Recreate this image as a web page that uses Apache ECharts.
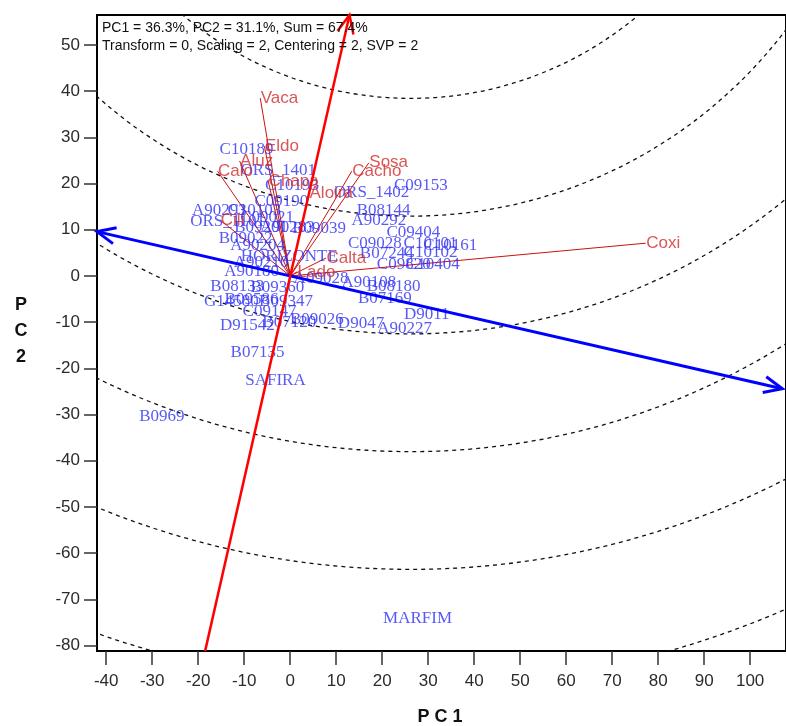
<!DOCTYPE html>
<html>
<head>
<meta charset="utf-8">
<script src="https://cdn.jsdelivr.net/npm/echarts@6/dist/echarts.min.js"></script>
<style>
  html, body { margin: 0; padding: 0; background: #fff; }
  #chart { width: 786px; height: 726px; }
</style>
</head>
<body>
<div id="chart"></div>
<script>
// GGE biplot: PC1 vs PC2, genotypes (blue) and environments (red vectors)

const xTicks = [-40, -30, -20, -10, 0, 10, 20, 30, 40, 50, 60, 70, 80, 90, 100];
const yTicks = [50, 40, 30, 20, 10, 0, -10, -20, -30, -40, -50, -60, -70, -80];

const headerLines = [
  'PC1 = 36.3%, PC2 = 31.1%, Sum = 67.4%',
  'Transform = 0, Scaling = 2, Centering = 2, SVP = 2'
];

// Genotype scores
const genotypeNames = [
  'C10189', 'ORS_1401', 'C10193', 'C09190', 'ORS_1402', 'C09153', 'B08144', 'A90292',
  'A90293', 'C10103', 'ORS_1101', 'C09021', 'B09201', 'A90283', 'B09039', 'B09022',
  'A90204', 'C09404', 'C09028', 'C10101', 'C10161', 'C10102', 'B07244', 'C09820',
  'C10404', 'HORIZONTE', 'A90210', 'A90180', 'A09028', 'A90108', 'B08180', 'B08133',
  'B09360', 'B07169', 'G14580', 'B09586', 'B09347', 'C09147', 'D9011', 'B09026',
  'B07120', 'D91542', 'D9047', 'A90227', 'B07135', 'SAFIRA', 'B0969', 'MARFIM'
];
const genotypePC1 = [
  -9.5, -2.6, 0.4, -1.9, 17.7, 28.4, 20.3, 19.3,
  -15.4, -7.8, -13.6, -5.0, -6.3, -0.6, 6.3, -9.7,
  -7.1, 26.8, 18.4, 30.5, 34.8, 30.5, 21.0, 24.7,
  31.0, -0.2, -6.3, -8.4, 6.7, 17.1, 22.5, -11.5,
  -2.8, 20.6, -12.8, -8.4, -0.9, -4.5, 29.7, 5.8,
  -0.2, -9.3, 15.4, 24.9, -7.1, -3.2, -27.9, 27.7
];
const genotypePC2 = [
  27.3, 22.9, 19.5, 16.2, 18.0, 19.5, 14.1, 11.9,
  14.1, 14.1, 11.7, 12.6, 10.4, 10.4, 10.2, 8.2,
  6.7, 9.5, 7.1, 7.1, 6.5, 5.0, 4.8, 2.4,
  2.4, 4.3, 3.0, 0.9, -0.6, -1.5, -2.2, -2.2,
  -2.6, -4.8, -5.6, -5.0, -5.6, -7.8, -8.4, -9.5,
  -10.0, -10.8, -10.2, -11.3, -16.5, -22.7, -30.5, -74.2
];

// Environment vector end points
const envNames = ['Vaca', 'Eldo', 'Aluz', 'Calo', 'Chapa', 'Aloira', 'Cacho', 'Sosa', 'Cili', 'Calta', 'Lado', 'Coxi'];
const envPC1 = [-6.5, -5.6, -11.0, -15.8, -4.8, 4.1, 13.4, 17.1, -15.2, 7.8, 1.5, 77.3];
const envPC2 = [38.5, 28.1, 24.9, 22.7, 20.6, 18.0, 22.7, 24.5, 12.1, 3.9, 0.9, 7.1];

// Average-environment axis (red, arrow at the top end) and its perpendicular (blue, arrows both ends)
const aecAbscissa = [[-18.5, -81.2], [12.9, 56.5]];
const aecOrdinate = [[-42.0, 9.6], [107.0, -24.4]];

// Concentric guide circles around the ideal point on the average-environment axis
const circleCenter = [26.2, 114.9];
const circleRadii = [76.8, 102.4, 128.0, 153.6, 179.2, 204.8];

// Arrow heads: [tipX, tipY, fromX, fromY, color]
const arrowHeads = [
  [aecAbscissa[1][0], aecAbscissa[1][1], aecAbscissa[0][0], aecAbscissa[0][1], '#ff0000'],
  [aecOrdinate[0][0], aecOrdinate[0][1], aecOrdinate[1][0], aecOrdinate[1][1], '#0000ff'],
  [aecOrdinate[1][0], aecOrdinate[1][1], aecOrdinate[0][0], aecOrdinate[0][1], '#0000ff']
];

const chart = echarts.init(document.getElementById('chart'), null, { renderer: 'canvas' });

const tickLabelFont = { fontFamily: 'Liberation Sans, Arial, sans-serif', fontSize: 17, color: '#2b2b2b' };

const option = {
  animation: false,
  backgroundColor: '#fff',
  grid: {
    left: 97, top: 15, width: 692, height: 636,
    show: true, borderColor: '#000', borderWidth: 2, backgroundColor: 'transparent'
  },
  xAxis: {
    type: 'value', min: -42.0, max: 107.8,
    axisLine: { show: true, onZero: false, lineStyle: { color: '#000', width: 2 } },
    axisTick: { show: true, length: 14, customValues: xTicks, lineStyle: { color: '#333', width: 1.5 } },
    axisLabel: Object.assign({ customValues: xTicks, margin: 22 }, tickLabelFont),
    splitLine: { show: false }
  },
  yAxis: {
    type: 'value', min: -81.17, max: 56.49,
    axisLine: { show: true, onZero: false, lineStyle: { color: '#000', width: 2 } },
    axisTick: { show: true, length: 13, customValues: yTicks, lineStyle: { color: '#333', width: 1.5 } },
    axisLabel: Object.assign({ customValues: yTicks, margin: 17 }, tickLabelFont),
    splitLine: { show: false }
  },
  graphic: [
    {
      type: 'text', left: 102, top: 19,
      style: { text: headerLines.join('\n'), fontFamily: 'Liberation Sans, Arial, sans-serif', fontSize: 14, lineHeight: 18, fill: '#111' },
      z: 100
    },
    {
      type: 'text', x: 440, y: 717,
      style: { text: 'P C 1', fontFamily: 'Liberation Sans, Arial, sans-serif', fontWeight: 'bold', fontSize: 18, fill: '#111', align: 'center', verticalAlign: 'middle' }
    },
    {
      type: 'text', x: 21, y: 331,
      style: { text: 'P\nC\n2', fontFamily: 'Liberation Sans, Arial, sans-serif', fontWeight: 'bold', fontSize: 18, lineHeight: 26, fill: '#111', align: 'center', verticalAlign: 'middle' }
    }
  ],
  series: [
    {
      // dashed concentric circles
      type: 'custom', coordinateSystem: 'cartesian2d', silent: true, z: 1,
      data: circleRadii.map(r => [circleCenter[0], circleCenter[1], r]),
      encode: { x: 0, y: 1 },
      renderItem(params, api) {
        const c = api.coord([api.value(0), api.value(1)]);
        const r = api.size([api.value(2), 0])[0];
        const cs = params.coordSys;
        return {
          type: 'circle',
          shape: { cx: c[0], cy: c[1], r: r },
          style: { fill: 'none', stroke: '#111', lineWidth: 1.3, lineDash: [4, 4] },
          clipPath: { type: 'rect', shape: { x: cs.x, y: cs.y, width: cs.width, height: cs.height } }
        };
      }
    },
    {
      // environment vectors from the origin
      type: 'custom', coordinateSystem: 'cartesian2d', silent: true, z: 2,
      data: envPC1.map((x, i) => [x, envPC2[i]]),
      encode: { x: 0, y: 1 },
      renderItem(params, api) {
        const o = api.coord([0, 0]);
        const e = api.coord([api.value(0), api.value(1)]);
        return {
          type: 'line',
          shape: { x1: o[0], y1: o[1], x2: e[0], y2: e[1] },
          style: { stroke: '#cc1111', lineWidth: 1 }
        };
      }
    },
    {
      // genotype labels
      type: 'scatter', z: 3, silent: true,
      symbol: 'circle', symbolSize: 1,
      itemStyle: { color: 'rgba(0,0,0,0)' },
      data: genotypeNames.map((n, i) => ({ name: n, value: [genotypePC1[i], genotypePC2[i]] })),
      label: {
        show: true, position: 'inside', formatter: '{b}',
        fontFamily: 'Liberation Serif, Times New Roman, serif', fontSize: 17, color: '#2e2ef5'
      }
    },
    {
      // environment labels
      type: 'scatter', z: 4, silent: true,
      symbol: 'circle', symbolSize: 1,
      itemStyle: { color: 'rgba(0,0,0,0)' },
      data: envNames.map((n, i) => ({ name: n, value: [envPC1[i], envPC2[i]] })),
      label: {
        show: true, position: 'right', distance: 0, formatter: '{b}',
        fontFamily: 'Liberation Sans, Arial, sans-serif', fontSize: 17, color: '#d12a2a'
      }
    },
    {
      type: 'line', z: 5, silent: true, symbol: 'none',
      data: aecOrdinate,
      lineStyle: { color: '#0000ff', width: 3 }
    },
    {
      type: 'line', z: 6, silent: true, symbol: 'none',
      data: aecAbscissa,
      lineStyle: { color: '#ff0000', width: 2.5 }
    },
    {
      // open "V" arrow heads at the axis ends
      type: 'custom', coordinateSystem: 'cartesian2d', silent: true, z: 7,
      data: arrowHeads.map(a => [a[0], a[1], a[2], a[3]]),
      encode: { x: 0, y: 1 },
      renderItem(params, api) {
        const tip = api.coord([api.value(0), api.value(1)]);
        const from = api.coord([api.value(2), api.value(3)]);
        const color = arrowHeads[params.dataIndex][4];
        const ang = Math.atan2(from[1] - tip[1], from[0] - tip[0]);
        const len = 20, spread = 0.42;
        const p1 = [tip[0] + len * Math.cos(ang + spread), tip[1] + len * Math.sin(ang + spread)];
        const p2 = [tip[0] + len * Math.cos(ang - spread), tip[1] + len * Math.sin(ang - spread)];
        return {
          type: 'polyline',
          shape: { points: [p1, tip, p2] },
          style: { stroke: color, fill: 'none', lineWidth: color === '#0000ff' ? 3 : 2.5 }
        };
      }
    }
  ]
};

chart.setOption(option);
</script>
</body>
</html>
